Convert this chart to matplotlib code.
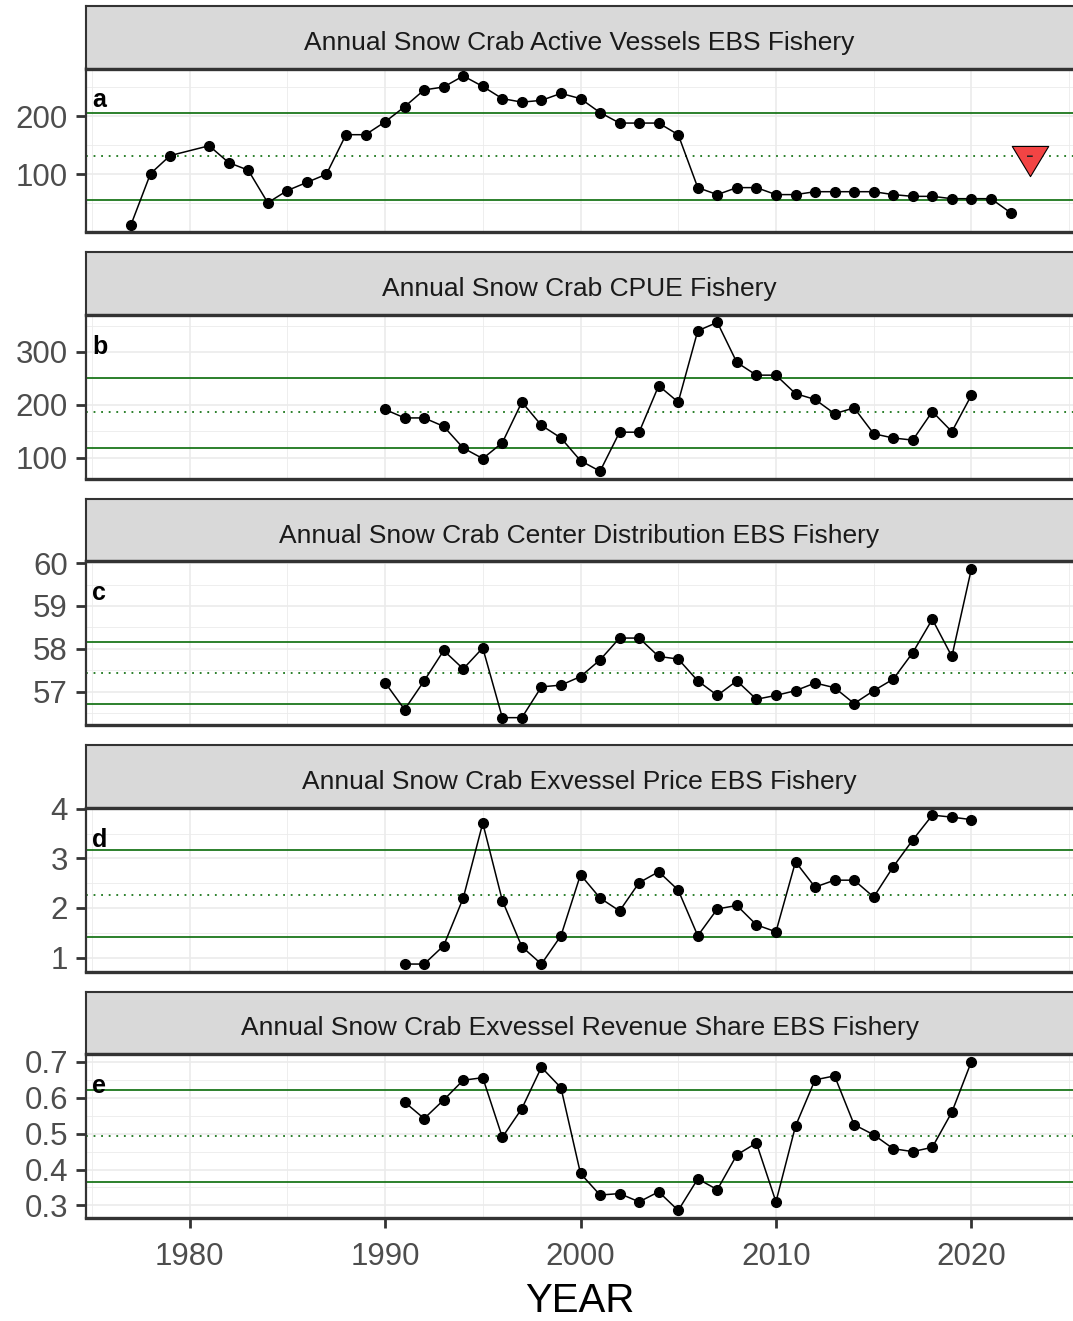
import matplotlib
matplotlib.use('Agg')
import matplotlib.pyplot as plt
from matplotlib.path import Path

plt.rcParams['font.family'] = ['Liberation Sans', 'DejaVu Sans']

# active vessels (no season in 1980)
years_vessels = [1977, 1978, 1979] + list(range(1981, 2023))
vessels = [13, 101, 132, 149, 120, 107, 51, 72, 86, 100,
           168, 168, 190, 216, 245, 250, 269, 251, 230, 224, 227, 239,
           230, 206, 188, 188, 188, 168, 77, 65, 77, 77,
           65, 65, 70, 70, 70, 70, 65, 62, 62, 58,
           58, 58, 34]

years_cpue = list(range(1990, 2021))
cpue = [191, 175, 175, 159, 118, 98, 128, 205, 161, 137,
        94, 74, 148, 148, 236, 205, 340, 356, 280, 256,
        256, 221, 210, 183, 194, 145, 137, 133, 187, 149, 218]

years_center = list(range(1990, 2021))
center = [57.21, 56.58, 57.25, 57.96, 57.53, 58.02, 56.39, 56.39, 57.11, 57.15,
          57.35, 57.74, 58.25, 58.25, 57.82, 57.76, 57.25, 56.91, 57.25, 56.82,
          56.91, 57.02, 57.20, 57.09, 56.72, 57.02, 57.29, 57.91, 58.69, 57.82, 59.87]

years_price = list(range(1991, 2021))
price = [0.87, 0.87, 1.24, 2.20, 3.71, 2.15, 1.22, 0.87, 1.44,
         2.67, 2.20, 1.94, 2.51, 2.73, 2.36, 1.44, 1.98, 2.05, 1.66,
         1.52, 2.93, 2.42, 2.56, 2.56, 2.22, 2.83, 3.37, 3.87, 3.83, 3.78]

years_share = list(range(1991, 2021))
share = [0.588, 0.542, 0.594, 0.649, 0.656, 0.490, 0.570, 0.685, 0.628,
         0.389, 0.329, 0.333, 0.310, 0.338, 0.286, 0.374, 0.344, 0.441, 0.474,
         0.310, 0.521, 0.650, 0.661, 0.525, 0.497, 0.458, 0.450, 0.462, 0.560, 0.701]

# lower sd, mean, upper sd
lines_vessels = [55, 132, 205.8]
lines_cpue = [117.5, 186, 251.4]
lines_center = [56.72, 57.44, 58.16]
lines_price = [1.41, 2.26, 3.17]
lines_share = [0.366, 0.4925, 0.622]

titles = ['Annual Snow Crab Active Vessels EBS Fishery',
          'Annual Snow Crab CPUE Fishery',
          'Annual Snow Crab Center Distribution EBS Fishery',
          'Annual Snow Crab Exvessel Price EBS Fishery',
          'Annual Snow Crab Exvessel Revenue Share EBS Fishery']
letters = ['a', 'b', 'c', 'd', 'e']
major_y = [[100, 200], [100, 200, 300], [57, 58, 59, 60], [1, 2, 3, 4],
           [0.3, 0.4, 0.5, 0.6, 0.7]]
ylabels = [['100', '200'], ['100', '200', '300'], ['57', '58', '59', '60'],
           ['1', '2', '3', '4'], ['0.3', '0.4', '0.5', '0.6', '0.7']]

trend_year = 2023
trend_value = 132

panels = [(years_vessels, vessels, lines_vessels),
          (years_cpue, cpue, lines_cpue),
          (years_center, center, lines_center),
          (years_price, price, lines_price),
          (years_share, share, lines_share)]

W, H = 1073, 1321
fig = plt.figure(figsize=(W / 100, H / 100), dpi=100)

x0, x1 = 1977 - 0.05 * 46, 2023 + 0.05 * 46
green = '#1b761b'
dark = '#333333'

tri_path = Path([(-1, 0.552), (1, 0.552), (0, -1.105), (-1, 0.552)],
                [Path.MOVETO, Path.LINETO, Path.LINETO, Path.CLOSEPOLY])

left = 86 / W
width = 1 - left + 2 / W
step = 246.4
for k in range(5):
    yrs, vals, lns = panels[k]
    strip_top = 6 + step * k
    panel_top = 68.5 + step * k
    panel_bot = 232.3 + step * k

    sax = fig.add_axes([left, 1 - panel_top / H, width, (panel_top - strip_top) / H])
    sax.set_facecolor('#D9D9D9')
    sax.set_xticks([])
    sax.set_yticks([])
    for s in sax.spines.values():
        s.set_color(dark)
        s.set_linewidth(1.5)
    sax.text(0.5 - 0.5 * (2 / W) / width, 0.41, titles[k], transform=sax.transAxes,
             ha='center', va='center', fontsize=19, color='#1A1A1A')

    ax = fig.add_axes([left, 1 - panel_bot / H, width, (panel_bot - panel_top) / H])
    lo, hi = min(vals), max(vals)
    pad = 0.05 * (hi - lo)
    ax.set_xlim(x0, x1)

    ax.set_xticks([1980, 1990, 2000, 2010, 2020])
    ax.set_xticks([1975, 1985, 1995, 2005, 2015, 2025], minor=True)
    ax.set_yticks(major_y[k])
    ax.set_yticklabels(ylabels[k])
    d = major_y[k][1] - major_y[k][0]
    ax.set_yticks([v + d / 2 for v in [major_y[k][0] - d] + major_y[k]], minor=True)
    ax.set_ylim(lo - pad, hi + pad)

    ax.grid(which='major', color='#EBEBEB', lw=1.2)
    ax.grid(which='minor', color='#EBEBEB', lw=0.6)
    ax.set_axisbelow(True)

    ax.axhline(lns[0], color=green, lw=1.3, zorder=2)
    ax.axhline(lns[2], color=green, lw=1.3, zorder=2)
    ax.axhline(lns[1], color=green, lw=1.3, ls=(0, (1, 3.2)), zorder=2)

    ax.plot(yrs, vals, color='black', lw=1.1, marker='o', ms=7, zorder=3)

    if k == 0:
        ax.plot([trend_year], [trend_value], marker=tri_path, ms=29,
                mfc='#F24444', mec='black', mew=0.8, ls='none', zorder=4)
        ax.text(trend_year, trend_value, '-', ha='center', va='center',
                fontsize=17, color='#222222', zorder=5)

    ax.annotate(letters[k], xy=(0, 1), xycoords='axes fraction',
                xytext=(4.5, -28), textcoords='offset points',
                ha='left', va='baseline', fontsize=18, fontweight='bold')

    ax.spines['right'].set_visible(False)
    ax.spines['left'].set_color(dark)
    ax.spines['left'].set_linewidth(1.6)
    ax.spines['top'].set_color(dark)
    ax.spines['top'].set_linewidth(2.4)
    ax.spines['bottom'].set_color(dark)
    ax.spines['bottom'].set_linewidth(2.4)

    ax.tick_params(axis='y', which='major', length=7, width=2, color=dark,
                   labelsize=22.5, labelcolor='#4D4D4D', pad=6)
    ax.tick_params(axis='both', which='minor', length=0)
    if k == 4:
        ax.tick_params(axis='x', which='major', length=7, width=2, color=dark,
                       labelsize=22.5, labelcolor='#4D4D4D', pad=10)
    else:
        ax.tick_params(axis='x', which='major', length=0, labelbottom=False)

fig.text((86 + 1073) / 2 / W, 1 - 1301 / H, 'YEAR', ha='center', va='center',
         fontsize=29, color='black')

fig.savefig('out.png', dpi=100)
